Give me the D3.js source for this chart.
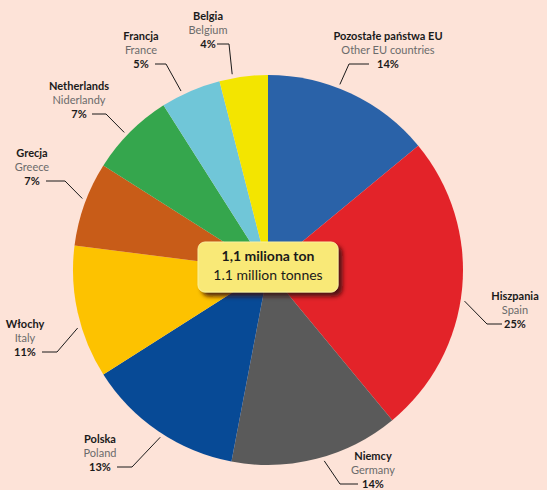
<!DOCTYPE html>
<html>
<head>
<meta charset="utf-8">
<script src="https://cdn.jsdelivr.net/npm/d3@7"></script>
<style>
  body { margin: 0; background: #fde3d8; }
  svg { display: block; }
  text { font-family: Lato, "Open Sans", sans-serif; }
</style>
</head>
<body>
<div id="chart"></div>
<script>
// shares of the 1.1 mln t, clockwise from 12 o'clock
var namesPl = ["Pozostałe państwa EU", "Hiszpania", "Niemcy", "Polska", "Włochy", "Grecja", "Netherlands", "Francja", "Belgia"];
var namesEn = ["Other EU countries", "Spain", "Germany", "Poland", "Italy", "Greece", "Niderlandy", "France", "Belgium"];
var shares = [14, 25, 14, 13, 11, 7, 7, 5, 4];
var colors = ["#2a62a8", "#e32329", "#5a5a5a", "#074a96", "#fdc200", "#c85c18", "#35a64d", "#70c6d8", "#f3e500"];

// label layout: text centre, first line y, where leader touches slice (fraction of slice), elbow
var labelPos = [
    {x: 388, y: 36, t: 0.42, hx0: 369, hx1: 349},
    {x: 515, y: 296, t: 0.54, hx0: 502, hx1: 487},
    {x: 373, y: 456, t: 0.46, hx0: 358, hx1: 340},
    {x: 100, y: 439, t: 0.47, hx0: 117, hx1: 132},
    {x: 25, y: 324, t: 0.39, hx0: 42, hx1: 57},
    {x: 32, y: 153, t: 0.55, hx0: 46, hx1: 65},
    {x: 79, y: 86, t: 0.45, hx0: 92, hx1: 106},
    {x: 141, y: 36, t: 0.36, hx0: 155, hx1: 166},
    {x: 208, y: 16, t: 0.28, hx0: 217, hx1: 229}
]

var width = 547,
    height = 490,
    cx = 268,
    cy = 270,
    radius = 195;

var svg = d3.select("#chart")
    .append("svg")
    .attr("width", width)
    .attr("height", height)

var defs = svg.append("defs")
var filter = defs.append("filter").attr("id", "shadow")
    .attr("x", "-20%").attr("y", "-20%").attr("width", "150%").attr("height", "160%")
filter.append("feDropShadow")
    .attr("dx", 4).attr("dy", 4).attr("stdDeviation", 2)
    .attr("flood-color", "#3a0a0a").attr("flood-opacity", 0.85)

var data = shares.map(function(d, i) {
    return {pl: namesPl[i], en: namesEn[i], value: d, color: colors[i], pos: labelPos[i]}
})

var pie = d3.pie().sort(null).value(function(d) { return d.value })
var arc = d3.arc().innerRadius(0).outerRadius(radius)
var arcs = pie(data)

var g = svg.append("g").attr("transform", "translate(" + cx + "," + cy + ")")

g.selectAll(".slice")
    .data(arcs)
    .enter().append("path")
    .attr("class", "slice")
    .attr("d", arc)
    .attr("fill", function(d) { return d.data.color })

// leaders
var lineGap = 14

svg.selectAll(".leader")
    .data(arcs)
    .enter().append("polyline")
    .attr("class", "leader")
    .attr("fill", "none")
    .attr("stroke", "#1a1a1a")
    .attr("stroke-width", 1)
    .attr("points", function(d) {
        var p = d.data.pos
        var a = d.startAngle + p.t * (d.endAngle - d.startAngle)
        var r = radius + 4
        var ax = cx + r * Math.sin(a),
            ay = cy - r * Math.cos(a)
        var ly = p.y + 2 * lineGap
        return [[p.hx0, ly], [p.hx1, ly], [ax, ay]].join(" ")
    })

var labels = svg.selectAll(".label")
    .data(arcs)
    .enter().append("text")
    .attr("class", "label")
    .attr("text-anchor", "middle")
    .attr("font-size", 11)

labels.append("tspan")
    .attr("x", function(d) { return d.data.pos.x })
    .attr("y", function(d) { return d.data.pos.y + 4 })
    .attr("font-weight", "bold")
    .attr("fill", "#1a1a1a")
    .text(function(d) { return d.data.pl })

labels.append("tspan")
    .attr("x", function(d) { return d.data.pos.x })
    .attr("y", function(d) { return d.data.pos.y + 4 + lineGap })
    .attr("fill", "#6b6b6b")
    .text(function(d) { return d.data.en })

labels.append("tspan")
    .attr("x", function(d) { return d.data.pos.x })
    .attr("y", function(d) { return d.data.pos.y + 4 + 2 * lineGap })
    .attr("font-weight", "bold")
    .attr("fill", "#1a1a1a")
    .text(function(d) { return d.data.value + "%" })

// centre box
var box = svg.append("g")
box.append("rect")
    .attr("x", 198).attr("y", 242)
    .attr("width", 140).attr("height", 50)
    .attr("rx", 7).attr("ry", 7)
    .attr("fill", "#f9e977")
    .attr("stroke", "#fbf0a0")
    .attr("stroke-width", 1)
    .attr("filter", "url(#shadow)")

box.append("text")
    .attr("x", 268).attr("y", 261)
    .attr("text-anchor", "middle")
    .attr("font-size", 14)
    .attr("font-weight", "bold")
    .attr("fill", "#1a1a1a")
    .text("1,1 miliona ton")

box.append("text")
    .attr("x", 268).attr("y", 280)
    .attr("text-anchor", "middle")
    .attr("font-size", 14)
    .attr("fill", "#1a1a1a")
    .text("1.1 million tonnes")
</script>
</body>
</html>
